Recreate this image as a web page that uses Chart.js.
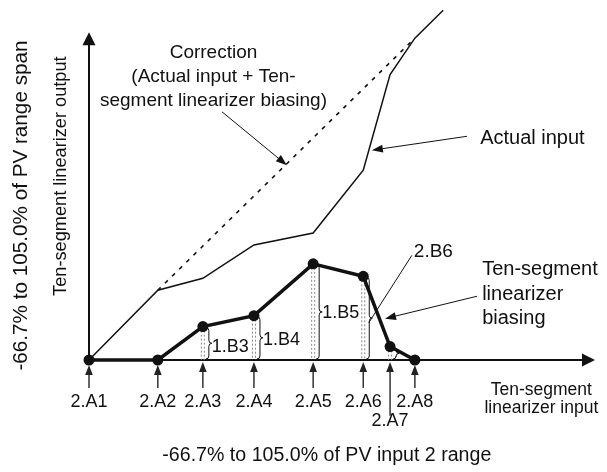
<!DOCTYPE html>
<html>
<head>
<meta charset="utf-8">
<script src="https://cdn.jsdelivr.net/npm/chart.js@4/dist/chart.umd.min.js"></script>
<style>
  html, body { margin: 0; padding: 0; background: #fff; }
  #wrap { width: 607px; height: 472px; }
</style>
</head>
<body>
<div id="wrap"><canvas id="c" width="607" height="472"></canvas></div>
<script>
// ---- data (schematic units) ----
const categories = ['2.A1', '2.A2', '2.A3', '2.A4', '2.A5', '2.A6', '2.A7', '2.A8'];
const breakX = [0, 13.6, 22.5, 32.6, 44.3, 54.2, 59.5, 64.4];
const biasing = [0, 0, 6.7, 8.9, 19.3, 16.8, 2.7, 0];
const actualX = [0, 13.6, 22.5, 32.6, 44.3, 54.2, 59.5, 64.4, 70.0];
const actualInput = [0, 14.0, 16.4, 23.1, 25.5, 38.1, 57.3, 64.6, 70.2];
const correctionX = [13.6, 64.4];
const correctionY = [14.0, 64.6];
const braceLabels = ['', '', '1.B3', '1.B4', '1.B5', '', '', ''];

const FONT = '"Liberation Sans", Arial, Helvetica, sans-serif';
const INK = '#111';

function pts(xs, ys) { return xs.map((x, i) => ({ x: x, y: ys[i] })); }

function arrowHead(ctx, x1, y1, x2, y2, len, half) {
  const a = Math.atan2(y2 - y1, x2 - x1);
  ctx.beginPath();
  ctx.moveTo(x2, y2);
  ctx.lineTo(x2 - len * Math.cos(a) + half * Math.sin(a), y2 - len * Math.sin(a) - half * Math.cos(a));
  ctx.lineTo(x2 - len * Math.cos(a) - half * Math.sin(a), y2 - len * Math.sin(a) + half * Math.cos(a));
  ctx.closePath();
  ctx.fill();
}
function arrow(ctx, x1, y1, x2, y2, len, half, lw) {
  const a = Math.atan2(y2 - y1, x2 - x1);
  ctx.lineWidth = lw;
  ctx.beginPath();
  ctx.moveTo(x1, y1);
  ctx.lineTo(x2 - len * 0.8 * Math.cos(a), y2 - len * 0.8 * Math.sin(a));
  ctx.stroke();
  arrowHead(ctx, x1, y1, x2, y2, len, half);
}
function text(ctx, s, x, y, size, align) {
  ctx.font = size + 'px ' + FONT;
  ctx.textAlign = align || 'left';
  ctx.textBaseline = 'middle';
  ctx.fillText(s, x, y);
}

const axesPlugin = {
  id: 'axesPlugin',
  beforeDatasetsDraw(chart) {
    const ctx = chart.ctx;
    const X = v => chart.scales.x.getPixelForValue(v);
    const Y = v => chart.scales.y.getPixelForValue(v);
    ctx.save();
    ctx.strokeStyle = INK; ctx.fillStyle = INK;
    // axes with arrowheads
    arrow(ctx, X(0), Y(0), X(100), Y(0), 13, 6.5, 2);
    arrow(ctx, X(0), Y(0), X(0), Y(65.8), 13, 6.5, 2);
    // dotted verticals and braces
    for (let i = 2; i <= 6; i++) {
      const x = X(breakX[i]), yt = Y(biasing[i]), yb = Y(0);
      ctx.strokeStyle = '#888';
      ctx.lineWidth = 1;
      ctx.setLineDash([2, 2]);
      ctx.beginPath();
      ctx.moveTo(x - 1.5, yt); ctx.lineTo(x - 1.5, yb);
      ctx.moveTo(x + 1.5, yt); ctx.lineTo(x + 1.5, yb);
      ctx.stroke();
      ctx.setLineDash([]);
      // brace
      const bx = x + 3, ym = (yt + yb) / 2, r = Math.min(3, (yb - yt) / 4);
      ctx.strokeStyle = INK; ctx.lineWidth = 1;
      ctx.beginPath();
      ctx.moveTo(bx, yt + 1);
      ctx.quadraticCurveTo(bx + 3, yt + 1, bx + 3, yt + 1 + r);
      ctx.lineTo(bx + 3, ym - r);
      ctx.quadraticCurveTo(bx + 3, ym, bx + 6, ym);
      ctx.quadraticCurveTo(bx + 3, ym, bx + 3, ym + r);
      ctx.lineTo(bx + 3, yb - 1 - r);
      ctx.quadraticCurveTo(bx + 3, yb - 1, bx, yb - 1);
      ctx.stroke();
    }
    ctx.restore();
  },
  afterDraw(chart) {
    const ctx = chart.ctx;
    const X = v => chart.scales.x.getPixelForValue(v);
    const Y = v => chart.scales.y.getPixelForValue(v);
    ctx.save();
    ctx.strokeStyle = INK; ctx.fillStyle = INK;
    // tick arrows and labels
    categories.forEach((c, i) => {
      const x = X(breakX[i]);
      const long = (i === 6);
      const yStart = long ? Y(-11.2) : Y(-5.6);
      const yEnd = Y(0) + (i === 0 || i === 1 || i === 7 ? 5 : 2);
      ctx.strokeStyle = '#333'; ctx.fillStyle = '#222';
      arrow(ctx, x, yStart, x, yEnd, 10, 3.8, 1.5);
      ctx.fillStyle = INK;
      text(ctx, c, x, long ? Y(-12.3) : Y(-8.5), 18, 'center');
    });
    ctx.fillStyle = INK; ctx.strokeStyle = INK;
    // brace labels
    [2, 3, 4].forEach(i => {
      const yv = i === 2 ? 2.6 : (i === 3 ? 4.0 : 9.5);
      text(ctx, braceLabels[i], X(breakX[i]) + 9, Y(yv), 18, 'left');
    });
    // annotations
    text(ctx, 'Correction', X(24.6), Y(61.7), 19, 'center');
    text(ctx, '(Actual input + Ten-', X(24.6), Y(56.9), 19, 'center');
    text(ctx, 'segment linearizer biasing)', X(24.6), Y(52.0), 19, 'center');
    arrow(ctx, X(26.3), Y(49.8), X(39.1), Y(39.1), 11, 4, 1);

    text(ctx, 'Actual input', X(77.3), Y(44.5), 20, 'left');
    arrow(ctx, X(74.7), Y(44.9), X(55.9), Y(42.1), 11, 4, 1);

    text(ctx, '2.B6', X(64.2), Y(21.7), 19, 'left');
    ctx.lineWidth = 1;
    ctx.beginPath(); ctx.moveTo(X(63.8), Y(21.0)); ctx.lineTo(X(55.3), Y(7.5)); ctx.stroke();

    text(ctx, 'Ten-segment', X(77.7), Y(18.2), 20, 'left');
    text(ctx, 'linearizer', X(77.7), Y(13.2), 20, 'left');
    text(ctx, 'biasing', X(77.7), Y(8.3), 20, 'left');
    arrow(ctx, X(76.7), Y(12.8), X(58.5), Y(8.3), 11, 4, 1);

    text(ctx, 'Ten-segment', X(89.4), Y(-6.0), 17.5, 'center');
    text(ctx, 'linearizer input', X(89.4), Y(-9.7), 17.5, 'center');

    text(ctx, '-66.7% to 105.0% of PV input 2 range', X(47.0), Y(-19.2), 19.6, 'center');

    // rotated y titles
    ctx.save();
    ctx.translate(X(-13.3), Y(31.0));
    ctx.rotate(-Math.PI / 2);
    text(ctx, '-66.7% to 105.0% of PV range span', 0, 0, 20.7, 'center');
    ctx.restore();
    ctx.save();
    ctx.translate(X(-5.6), Y(36.9));
    ctx.rotate(-Math.PI / 2);
    text(ctx, 'Ten-segment linearizer output', 0, 0, 18.2, 'center');
    ctx.restore();
    ctx.restore();
  }
};

new Chart(document.getElementById('c'), {
  type: 'scatter',
  data: {
    datasets: [
      {
        label: 'Correction',
        data: pts(correctionX, correctionY),
        showLine: true,
        borderColor: INK,
        borderWidth: 1.6,
        borderDash: [4, 6],
        pointRadius: 0,
        clip: false
      },
      {
        label: 'Actual input',
        data: pts(actualX, actualInput),
        showLine: true,
        borderColor: INK,
        borderWidth: 1.5,
        pointRadius: 0,
        clip: false
      },
      {
        label: 'Ten-segment linearizer biasing',
        data: pts(breakX, biasing),
        showLine: true,
        borderColor: INK,
        backgroundColor: INK,
        borderWidth: 3.5,
        pointRadius: 5.5,
        pointBorderWidth: 0,
        pointBackgroundColor: INK,
        clip: false
      }
    ]
  },
  options: {
    responsive: false,
    animation: false,
    devicePixelRatio: 1,
    layout: { padding: { left: 89, right: 12, top: 0, bottom: 112 } },
    scales: {
      x: { type: 'linear', min: 0, max: 100, display: false },
      y: { type: 'linear', min: 0, max: 71.15, display: false }
    },
    plugins: { legend: { display: false }, tooltip: { enabled: false } },
    elements: { line: { tension: 0 } }
  },
  plugins: [axesPlugin]
});
</script>
</body>
</html>
